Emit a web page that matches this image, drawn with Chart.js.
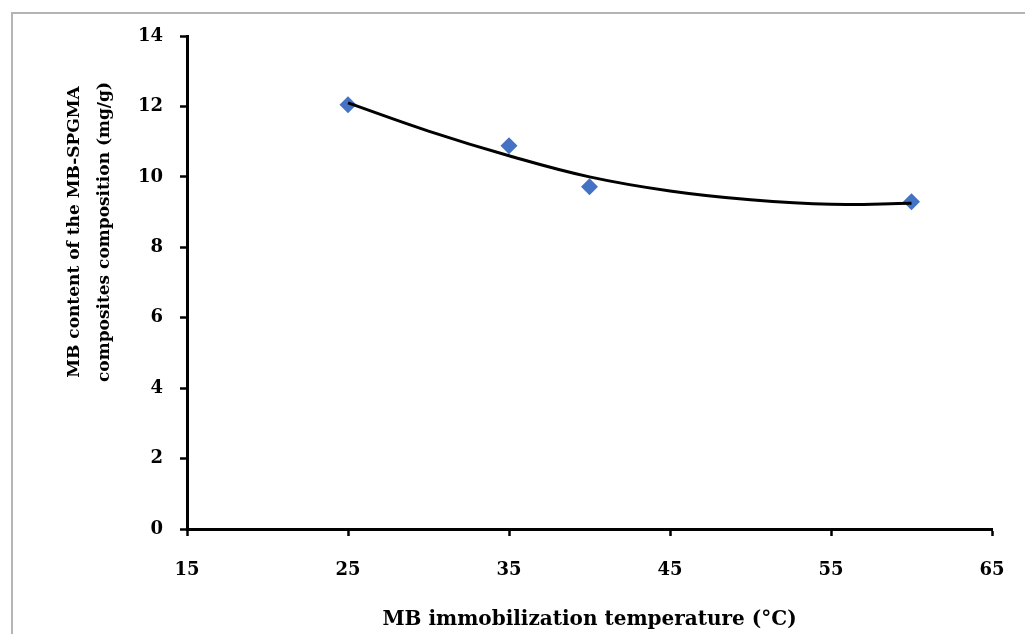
<!DOCTYPE html>
<html>
<head>
<meta charset="utf-8">
<script src="https://cdn.jsdelivr.net/npm/chart.js@4.4.0/dist/chart.umd.min.js"></script>
<style>
  html, body { margin: 0; padding: 0; background: #fff; }
  #wrap { width: 1025px; height: 634px; position: relative; }
</style>
</head>
<body>
<div id="wrap"><canvas id="mbChart" width="1025" height="634"></canvas></div>
<script>
// measured points
const temps = [25, 35, 40, 60];
const mbContent = [12.05, 10.88, 9.72, 9.29];

// fitted trend curve
const trendTemps = [25, 30, 35, 40, 45, 50, 55, 60];
const trendValues = [12.1, 11.3, 10.6, 10.0, 9.6, 9.35, 9.22, 9.25];

const xTicks = [15, 25, 35, 45, 55, 65];
const yTicks = [0, 2, 4, 6, 8, 10, 12, 14];

const xTitle = "MB immobilization temperature (°C)";
const yTitle = ["MB content of the MB-SPGMA", "composites composition (mg/g)"];

const fontFamily = "'DejaVu Serif', 'Liberation Serif', serif";

const toPoints = (xs, ys) => xs.map((x, i) => ({ x: x, y: ys[i] }));

// frame around the figure and the two axis titles
const decorations = {
  id: "decorations",
  beforeDraw(chart) {
    const ctx = chart.ctx;
    ctx.save();
    ctx.strokeStyle = "#b4b4b4";
    ctx.lineWidth = 2;
    ctx.beginPath();
    ctx.moveTo(12, 700);
    ctx.lineTo(12, 13);
    ctx.lineTo(1100, 13);
    ctx.stroke();
    ctx.restore();
  },
  afterDraw(chart) {
    const ctx = chart.ctx;
    const area = chart.chartArea;
    ctx.save();
    ctx.fillStyle = "#000";
    ctx.textAlign = "center";
    ctx.textBaseline = "middle";
    ctx.font = "bold 20px " + fontFamily;
    ctx.fillText(xTitle, (area.left + area.right) / 2, 620);

    ctx.font = "bold 17px " + fontFamily;
    ctx.translate(0, 232);
    ctx.rotate(-Math.PI / 2);
    ctx.fillText(yTitle[0], 0, 75);
    ctx.fillText(yTitle[1], 0, 105);
    ctx.restore();
  }
};

new Chart(document.getElementById("mbChart"), {
  type: "scatter",
  data: {
    datasets: [
      {
        label: "trend",
        data: toPoints(trendTemps, trendValues),
        showLine: true,
        borderColor: "#000",
        borderWidth: 3,
        tension: 0.4,
        pointRadius: 0,
        order: 0
      },
      {
        label: "MB content",
        data: toPoints(temps, mbContent),
        pointStyle: "rectRot",
        pointRadius: 8.5,
        pointBackgroundColor: "#4472C4",
        pointBorderWidth: 0,
        order: 1
      }
    ]
  },
  options: {
    responsive: false,
    devicePixelRatio: 1,
    animation: false,
    layout: { padding: { left: 0, top: 36, right: 33, bottom: 0 } },
    plugins: {
      legend: { display: false },
      tooltip: { enabled: false }
    },
    scales: {
      x: {
        type: "linear",
        min: 15,
        max: 65,
        afterBuildTicks(scale) {
          scale.ticks = xTicks.map(v => ({ value: v }));
        },
        afterFit(scale) {
          scale.height = 105;
          scale.paddingLeft = 0;
          scale.paddingRight = 0;
        },
        grid: { drawOnChartArea: false, tickLength: 7, tickWidth: 2.5, tickColor: "#000" },
        border: { display: true, color: "#000", width: 3 },
        ticks: {
          color: "#000",
          padding: 24,
          maxRotation: 0,
          font: { family: fontFamily, size: 18, weight: "bold" }
        }
      },
      y: {
        min: 0,
        max: 14,
        afterBuildTicks(scale) {
          scale.ticks = yTicks.map(v => ({ value: v }));
        },
        afterFit(scale) {
          scale.width = 187;
          scale.paddingTop = 0;
          scale.paddingBottom = 0;
        },
        grid: { drawOnChartArea: false, tickLength: 7, tickWidth: 2.5, tickColor: "#000" },
        border: { display: true, color: "#000", width: 3 },
        ticks: {
          color: "#000",
          padding: 17,
          font: { family: fontFamily, size: 18, weight: "bold" }
        }
      }
    }
  },
  plugins: [decorations]
});
</script>
</body>
</html>
